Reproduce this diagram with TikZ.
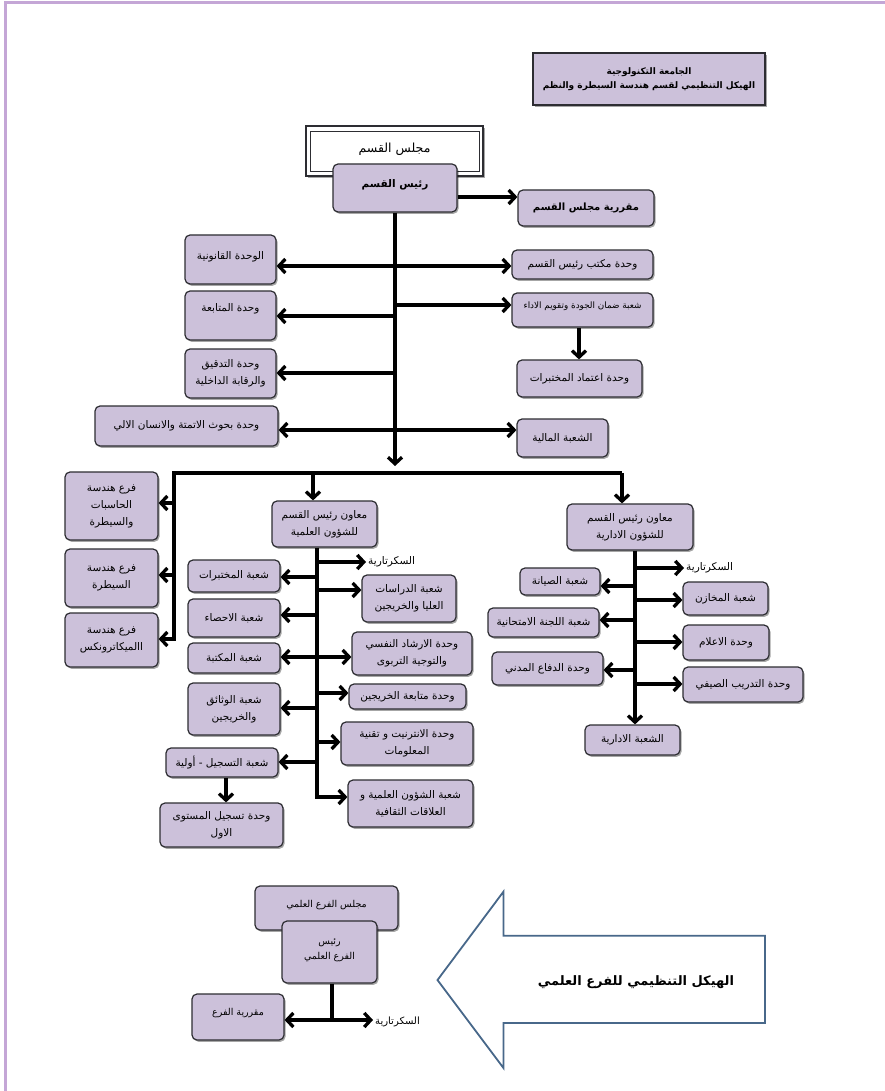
\documentclass[tikz,border=0pt]{standalone}
\usepackage{fontspec}
\newfontfamily\arabicfont[Script=Arabic]{DejaVu Sans}
\TeXXeTstate=1
\usetikzlibrary{arrows.meta,shadows}
\definecolor{lav}{RGB}{204,193,218}
\definecolor{bordc}{RGB}{45,45,50}
\definecolor{framec}{RGB}{196,166,214}
\definecolor{bluearrow}{RGB}{72,104,138}
\newcommand\rl[1]{\beginR#1\endR}
\newcommand\obox[7][]{\node[box,minimum width={#5-#3},minimum height={#6-#4},#1] (#2) at ({(#3+#5)/2},{(#4+#6)/2}) {#7};}
\begin{document}
\begin{tikzpicture}[x=1pt,y=-1pt,
  box/.style={draw=bordc, fill=lav, line width=1.2pt, rounded corners=5pt, align=center,
    font=\arabicfont\fontsize{10.5}{17}\selectfont, inner sep=1pt,
    drop shadow={shadow xshift=1.5pt,shadow yshift=-1.8pt,opacity=0.35,fill=black}},
  small/.style={font=\arabicfont\fontsize{9.5}{15}\selectfont},
  plain/.style={font=\arabicfont\fontsize{10.5}{12}\selectfont, inner sep=2pt},
  conn/.style={line width=3.3pt, draw=black},
  >={Straight Barb[length=6.5pt,width=14pt]}]
\useasboundingbox (0,0) rectangle (885,1091);
\fill[white] (0,0) rectangle (885,1091);
\draw[framec, line width=3pt] (5.5,1091) -- (5.5,2.5) -- (885,2.5);

% title
\obox[sharp corners, font=\arabicfont\bfseries\fontsize{9}{14}\selectfont]{title}{533}{53}{765}{105}{\rl{الجامعة التكنولوجية}\\\rl{الهيكل التنظيمي لقسم هندسة السيطرة والنظم}}

% department council
\node[draw=bordc, fill=white, line width=1.2pt, minimum width=177, minimum height=50,
  drop shadow={shadow xshift=1.5pt,shadow yshift=-1.8pt,opacity=0.35,fill=black},
  font=\arabicfont\fontsize{12.5}{14}\selectfont, text depth=7pt] (majlis) at (394.5,151) {\rl{مجلس القسم}};
\draw[bordc, line width=1.2pt] ([shift={(5pt,-6pt)}]majlis.north west) rectangle ([shift={(-4pt,5pt)}]majlis.south east);

\obox[font=\arabicfont\bfseries\fontsize{10.5}{12}\selectfont, text depth=9pt]{rais}{333}{164}{457}{212}{\rl{رئيس القسم}}
\obox[font=\arabicfont\bfseries\fontsize{10}{12}\selectfont]{maqr}{518}{190}{654}{226}{\rl{مقررية مجلس القسم}}
\obox[text depth=7pt]{qanun}{185}{235}{276}{284}{\rl{الوحدة القانونية}}
\obox{maktab}{512}{250}{653}{279}{\rl{وحدة مكتب رئيس القسم}}
\obox[text depth=16pt]{mutaba}{185}{291}{276}{340}{\rl{وحدة المتابعة}}
\obox[font=\arabicfont\fontsize{8.8}{12}\selectfont, text depth=10pt]{damman}{512}{293}{653}{327}{\rl{شعبة ضمان الجودة وتقويم الاداء}}
\obox{itimad}{517}{360}{642}{397}{\rl{وحدة اعتماد المختبرات}}
\obox{tadqiq}{185}{349}{276}{398}{\rl{وحدة التدقيق}\\\rl{والرقابة الداخلية}}
\obox{buhuth}{95}{406}{278}{446}{\rl{وحدة بحوث الاتمتة والانسان الالي}}
\obox{maliya}{517}{419}{608}{457}{\rl{الشعبة المالية}}

% branches
\obox{hasib}{65}{472}{158}{540}{\rl{فرع هندسة}\\\rl{الحاسبات}\\\rl{والسيطرة}}
\obox{saytara}{65}{549}{158}{607}{\rl{فرع هندسة}\\\rl{السيطرة}}
\obox{mekat}{65}{613}{158}{667}{\rl{فرع هندسة}\\\rl{االميكاترونكس}}

% scientific affairs
\obox{moaalm}{272}{501}{377}{547}{\rl{معاون رئيس القسم}\\\rl{للشؤون العلمية}}
\obox{mukhtabarat}{188}{560}{280}{592}{\rl{شعبة المختبرات}}
\obox{ihsa}{188}{599}{280}{637}{\rl{شعبة الاحصاء}}
\obox{maktaba}{188}{643}{280}{673}{\rl{شعبة المكتبة}}
\obox{wathaiq}{188}{683}{280}{735}{\rl{شعبة الوثائق}\\\rl{والخريجين}}
\obox{tasjil}{166}{748}{278}{777}{\rl{شعبة التسجيل - أولية}}
\obox{mustawa}{160}{803}{283}{847}{\rl{وحدة تسجيل المستوى}\\\rl{الاول}}
\node[plain, anchor=west] (secS) at (366,562) {\rl{السكرتارية}};
\obox{dirasat}{362}{575}{456}{622}{\rl{شعبة الدراسات}\\\rl{العليا والخريجين}}
\obox{irshad}{352}{632}{472}{675}{\rl{وحدة الارشاد النفسي}\\\rl{والتوجية التربوى}}
\obox{mutabaKh}{349}{684}{466}{709}{\rl{وحدة متابعة الخريجين}}
\obox{internet}{341}{722}{473}{765}{\rl{وحدة الانترنيت و تقنية}\\\rl{المعلومات}}
\obox{shuun}{348}{780}{473}{827}{\rl{شعبة الشؤون العلمية و}\\\rl{العلاقات الثقافية}}

% administrative affairs
\obox{moaadm}{567}{504}{693}{550}{\rl{معاون رئيس القسم}\\\rl{للشؤون الادارية}}
\node[plain, anchor=west] (secA) at (684,568) {\rl{السكرتارية}};
\obox{siyana}{520}{568}{600}{595}{\rl{شعبة الصيانة}}
\obox{makhazin}{683}{582}{768}{615}{\rl{شعبة المخازن}}
\obox{lajna}{488}{608}{599}{637}{\rl{شعبة اللجنة الامتحانية}}
\obox{ilam}{683}{625}{769}{660}{\rl{وحدة الاعلام}}
\obox{difa}{492}{652}{603}{685}{\rl{وحدة الدفاع المدني}}
\obox{tadrib}{683}{667}{803}{702}{\rl{وحدة التدريب الصيفي}}
\obox{idari}{585}{725}{680}{755}{\rl{الشعبة الادارية}}

% connectors, top
\draw[conn,->] (rais.east |- 0,197) -- (maqr.west |- 0,197);
\coordinate (mEnd) at (395,466);
\draw[conn,->] (rais.south) -- (mEnd);
\draw[conn,<->] (qanun.east |- 0,266) -- (maktab.west |- 0,266);
\draw[conn,->] (rais.south |- 0,305) -- (damman.west |- 0,305);
\draw[conn,->] (rais.south |- 0,316) -- (mutaba.east |- 0,316);
\draw[conn,->] (rais.south |- 0,373) -- (tadqiq.east |- 0,373);
\draw[conn,<->] (buhuth.east |- 0,430) -- (maliya.west |- 0,430);
\draw[conn,->] (damman.south -| 579,0) -- (itimad.north -| 579,0);

% bus
\coordinate (bL) at (174,473);
\coordinate (bR) at (622,473);
\draw[conn,->,line join=miter] (bR) -- (bL) |- (mekat.east |- 0,639);
\draw[conn,->] (bL |- 0,503) -- (hasib.east |- 0,503);
\draw[conn,->] (bL |- 0,575) -- (saytara.east |- 0,575);
\draw[conn,->] (bR) -- (bR |- moaadm.north);
\draw[conn,->] (bL -| 313,0) -- (moaalm.north -| 313,0);

% scientific connectors
\coordinate (sv) at (moaalm.south -| 317,0);
\draw[conn,->,line join=miter] (sv) |- (shuun.west |- 0,797);
\draw[conn,->] (sv |- 0,562) -- (secS.west |- 0,562);
\draw[conn,->] (sv |- 0,590) -- (dirasat.west |- 0,590);
\draw[conn,->] (sv |- 0,577) -- (mukhtabarat.east |- 0,577);
\draw[conn,->] (sv |- 0,615) -- (ihsa.east |- 0,615);
\draw[conn,<->] (maktaba.east |- 0,657) -- (irshad.west |- 0,657);
\draw[conn,->] (sv |- 0,693) -- (mutabaKh.west |- 0,693);
\draw[conn,->] (sv |- 0,708) -- (wathaiq.east |- 0,708);
\draw[conn,->] (sv |- 0,742) -- (internet.west |- 0,742);
\draw[conn,->] (sv |- 0,762) -- (tasjil.east |- 0,762);
\draw[conn,->] (tasjil.south -| 226,0) -- (mustawa.north -| 226,0);

% administrative connectors
\coordinate (av) at (moaadm.south -| 635,0);
\draw[conn,->] (av) -- (idari.north -| av);
\draw[conn,->] (av |- 0,568) -- (secA.west |- 0,568);
\draw[conn,->] (av |- 0,586) -- (siyana.east |- 0,586);
\draw[conn,->] (av |- 0,600) -- (makhazin.west |- 0,600);
\draw[conn,->] (av |- 0,620) -- (lajna.east |- 0,620);
\draw[conn,->] (av |- 0,642) -- (ilam.west |- 0,642);
\draw[conn,->] (av |- 0,670) -- (difa.east |- 0,670);
\draw[conn,->] (av |- 0,684) -- (tadrib.west |- 0,684);

% scientific branch structure
\obox[small, text depth=8pt]{majfar}{255}{886}{398}{930}{\rl{مجلس الفرع العلمي}}
\obox[small, text depth=6pt]{raisfar}{282}{921}{377}{983}{\rl{رئيس}\\\rl{الفرع العلمي}}
\obox[small, text depth=10pt]{maqfar}{192}{994}{284}{1040}{\rl{مقررية الفرع}}
\node[plain, font=\arabicfont\fontsize{10}{12}\selectfont, anchor=west] (secF) at (373,1022) {\rl{السكرتارية}};
\coordinate (fj) at (332,1020);
\draw[conn] (raisfar.south -| fj) -- (fj);
\draw[conn,<->] (maqfar.east |- fj) -- (secF.west |- fj);

% big arrow
\draw[bluearrow, line width=1.8pt, fill=white, line join=miter]
  (437.5,980) -- (503.5,891.6) -- (503.5,935.8) -- (765,935.8) -- (765,1023) -- (503.5,1023) -- (503.5,1068) -- cycle;
\node[font=\arabicfont\bfseries\fontsize{13}{16}\selectfont] (bigT) at (636,982) {\rl{الهيكل التنظيمي للفرع العلمي}};
\end{tikzpicture}
\end{document}
